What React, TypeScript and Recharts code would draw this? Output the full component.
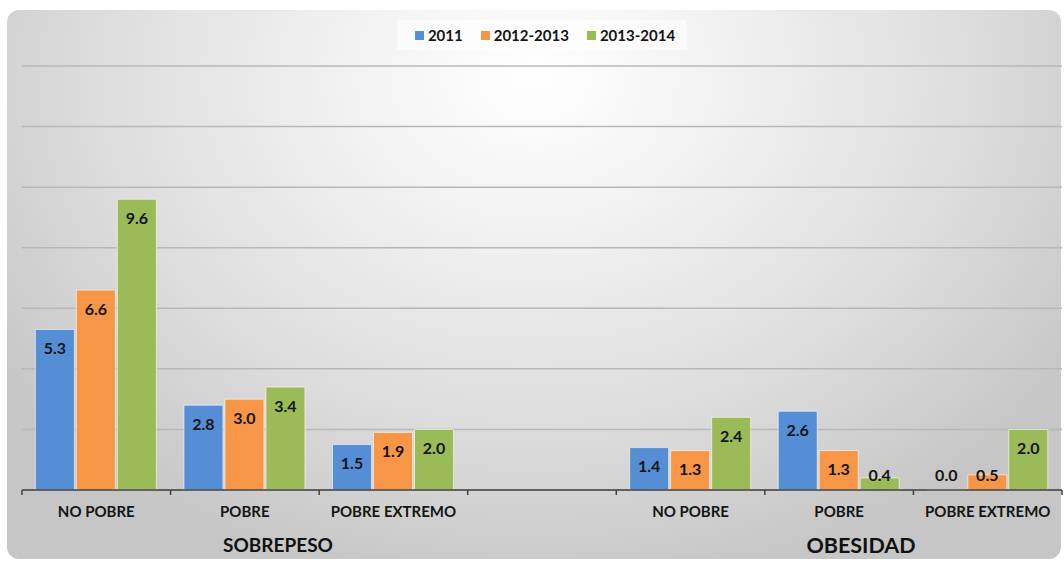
import React from "react";
import { BarChart, Bar, XAxis, YAxis, CartesianGrid, Legend, LabelList } from "recharts";

const categories = ["NO POBRE", "POBRE", "POBRE EXTREMO", "", "NO POBRE", "POBRE", "POBRE EXTREMO"];
const s2011 = [5.3, 2.8, 1.5, null, 1.4, 2.6, 0.0];
const s2012 = [6.6, 3.0, 1.9, null, 1.3, 1.3, 0.5];
const s2013 = [9.6, 3.4, 2.0, null, 2.4, 0.4, 2.0];
const yTicks = [0, 2, 4, 6, 8, 10, 12, 14];
const boundaryTicks = [0, 1, 2, 3, 4, 5, 6, 7];
const centerTicks = [0.5, 1.5, 2.5, 3.5, 4.5, 5.5, 6.5];
const seriesNames = ["2011", "2012-2013", "2013-2014"];
const colors = ["#558ED5", "#F79646", "#9BBB59"];
const groupLabels = [
  { text: "SOBREPESO", left: 278, size: 19 },
  { text: "OBESIDAD", left: 861, size: 21.5 },
];

const data = categories.map((c, i) => ({
  cat: c,
  idx: i + 0.5,
  a: s2011[i],
  b: s2012[i],
  c: s2013[i],
}));

const allTicks = [...boundaryTicks, ...centerTicks].sort((p, q) => p - q);

const FONT = "Lato, 'Open Sans', sans-serif";

const renderLabel = (props: any) => {
  const { x, y, width, height, value } = props;
  if (value === null || value === undefined) return null;
  const base = y + (height || 0);
  const ty = Math.min(y + 18, base - 16);
  return (
    <text
      x={x + width / 2}
      y={ty}
      textAnchor="middle"
      dominantBaseline="central"
      fontFamily={FONT}
      fontWeight={700}
      fontSize={16}
      fill="#141414"
    >
      {Number(value).toFixed(1)}
    </text>
  );
};

const AxisTick = (props: any) => {
  const { x, y, payload } = props;
  const v = payload.value;
  if (Number.isInteger(v)) {
    return <line x1={x} x2={x} y1={y} y2={y + 5} stroke="#404040" strokeWidth={1.5} />;
  }
  const label = categories[Math.floor(v)];
  return (
    <text
      x={x}
      y={y + 21}
      textAnchor="middle"
      dominantBaseline="central"
      fontFamily={FONT}
      fontWeight={700}
      fontSize={15}
      fill="#141414"
    >
      {label}
    </text>
  );
};

const LegendContent = () => (
  <div style={{ display: "flex", justifyContent: "center", height: 30 }}>
    <div
      style={{
        display: "flex",
        alignItems: "center",
        height: 30,
        padding: "0 12px 0 18px",
        background: "rgba(255,255,255,0.55)",
        fontFamily: FONT,
        fontWeight: 700,
        fontSize: 15,
        color: "#141414",
      }}
    >
      {seriesNames.map((n, i) => (
        <div key={n} style={{ display: "flex", alignItems: "center", marginRight: i < 2 ? 18 : 0 }}>
          <span style={{ width: 9, height: 9, background: colors[i], display: "inline-block", marginRight: 4 }} />
          <span>{n}</span>
        </div>
      ))}
    </div>
  </div>
);

const zeroMin = (v: any) => (v === 0 ? 0.01 : 0);

export default function App() {
  return (
    <div style={{ position: "absolute", left: 0, top: 0, width: 1064, height: 561, background: "#ffffff", overflow: "hidden" }}>
      <div
        style={{
          position: "absolute",
          left: 7,
          top: 10,
          width: 1054,
          height: 549,
          borderRadius: 12,
          background:
            "radial-gradient(ellipse 62% 95% at 50% 12%, #ffffff 0%, #f1f1f1 30%, #dedede 65%, #c6c6c6 100%)",
        }}
      />
      <div style={{ position: "absolute", left: 0, top: 0 }}>
        <BarChart
          width={1064}
          height={561}
          data={data}
          margin={{ top: 36, right: 2, bottom: 41, left: 22 }}
          barCategoryGap="9%"
          barGap={2}
        >
          <CartesianGrid horizontal vertical={false} stroke="#b8b8b8" strokeWidth={1.5} />
          <YAxis hide domain={[0, 14]} ticks={yTicks} type="number" />
          <XAxis dataKey="cat" hide height={0} />
          <XAxis
            xAxisId="n"
            dataKey="idx"
            type="number"
            domain={[0, 7]}
            allowDataOverflow
            ticks={allTicks}
            interval={0}
            tick={<AxisTick />}
            tickLine={false}
            tickSize={0}
            tickMargin={0}
            height={30}
            axisLine={{ stroke: "#404040", strokeWidth: 1.5 }}
          />
          <Legend verticalAlign="top" content={<LegendContent />} wrapperStyle={{ top: 20 }} />
          {["a", "b", "c"].map((k, i) => (
            <Bar
              key={k}
              dataKey={k}
              name={seriesNames[i]}
              fill={colors[i]}
              stroke="#ffffff"
              strokeOpacity={0.6}
              strokeWidth={1}
              minPointSize={zeroMin}
              isAnimationActive={false}
            >
              <LabelList dataKey={k} content={renderLabel} />
            </Bar>
          ))}
        </BarChart>
      </div>
      {groupLabels.map((g) => (
        <div
          key={g.text}
          style={{
            position: "absolute",
            left: g.left - 100,
            width: 200,
            top: 533,
            textAlign: "center",
            fontFamily: FONT,
            fontWeight: 700,
            fontSize: g.size,
            lineHeight: "24px",
            color: "#111",
          }}
        >
          {g.text}
        </div>
      ))}
    </div>
  );
}
